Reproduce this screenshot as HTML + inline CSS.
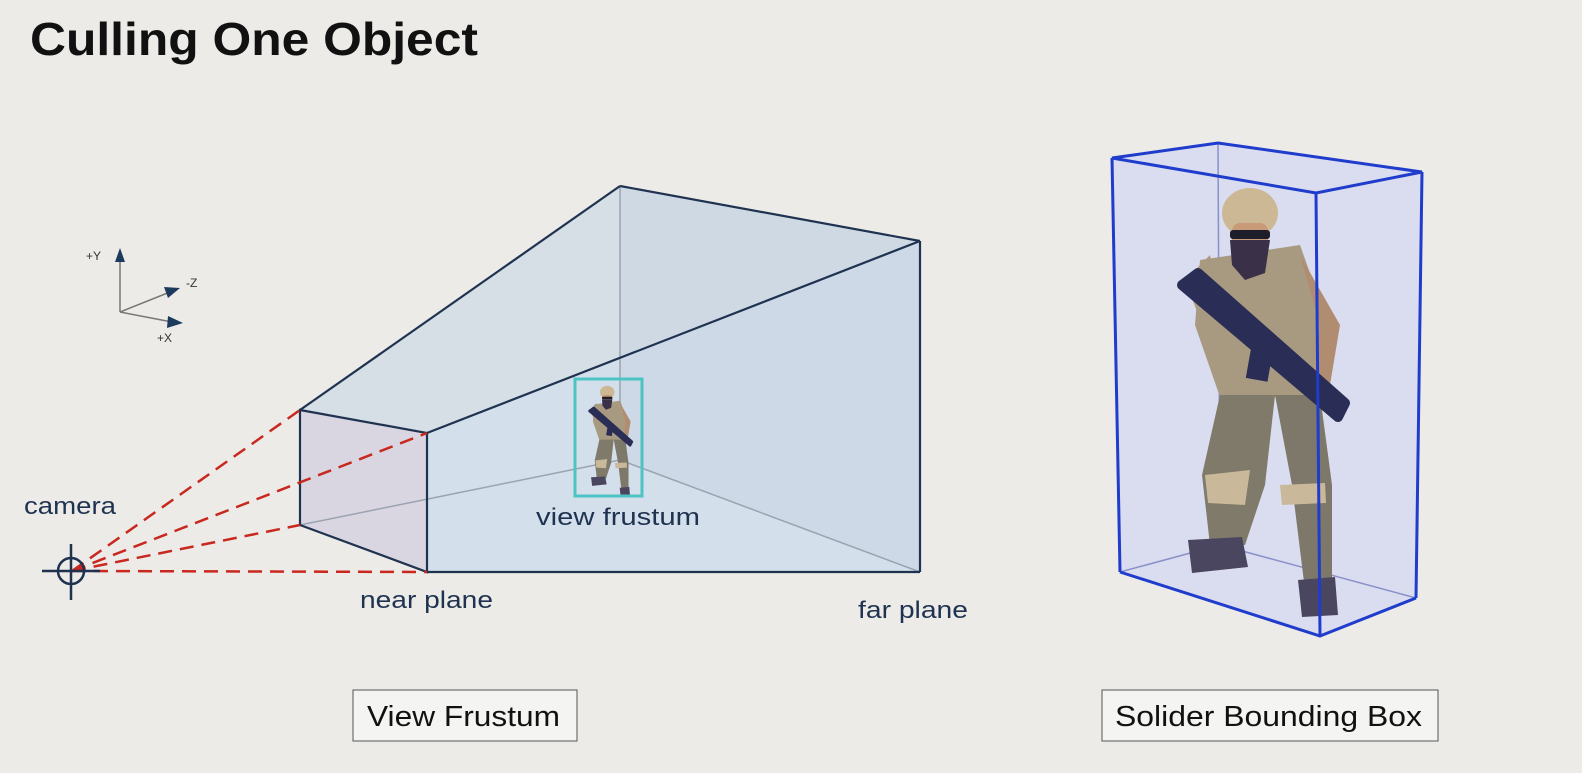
<!DOCTYPE html>
<html><head><meta charset="utf-8"><style>
html,body{margin:0;padding:0;background:#ecebe8;}
svg{display:block;font-family:"Liberation Sans",sans-serif;}
</style></head><body>
<svg width="1582" height="773" viewBox="0 0 1582 773">
<defs>
<g id="soldier">
  <path d="M5,95 L30,70 L60,190 L45,200 Z" fill="#b99a7c"/>
  <path d="M20,75 L120,60 L152,150 L140,212 L40,212 L15,140 Z" fill="#a89a80"/>
  <path d="M120,70 L160,140 L150,200 L135,190 L140,140 Z" fill="#b08c70"/>
  <path d="M40,210 L95,210 L85,300 L65,360 L30,360 L22,290 Z" fill="#7f7a6a"/>
  <path d="M95,210 L140,210 L152,300 L152,400 L125,405 L112,300 Z" fill="#7d786a"/>
  <path d="M25,290 L70,285 L65,320 L28,318 Z" fill="#c9b89a"/>
  <path d="M100,300 L145,298 L146,318 L102,320 Z" fill="#c9b89a"/>
  <path d="M8,355 L62,352 L68,382 L12,388 Z" fill="#4a4660"/>
  <path d="M118,395 L155,392 L158,430 L122,432 Z" fill="#4a4660"/>
  <ellipse cx="70" cy="28" rx="28" ry="25" fill="#cdb896"/>
  <rect x="52" y="38" width="36" height="32" rx="8" fill="#c89a78"/>
  <path d="M50,55 L90,55 L85,88 L65,95 L52,80 Z" fill="#3a3048"/>
  <rect x="50" y="45" width="40" height="9" rx="3" fill="#1e1e2a"/>
  <path d="M2,100 L18,88 L165,218 L158,232 Z" fill="#2a2d55" stroke="#2a2d55" stroke-width="10" stroke-linejoin="round"/>
  <rect x="70" y="150" width="22" height="45" fill="#2a2d55" transform="rotate(10 80 170)"/>
</g>
</defs>

<text x="30" y="55" font-size="46" font-weight="bold" fill="#111" textLength="448" lengthAdjust="spacingAndGlyphs">Culling One Object</text>

<g stroke="#777" stroke-width="1.5" fill="#1c3a5c">
  <line x1="120" y1="312" x2="120" y2="255"/>
  <line x1="120" y1="312" x2="170" y2="292"/>
  <line x1="120" y1="312" x2="172" y2="322"/>
  <path d="M120,248 L115,262 L125,262 Z" stroke="none"/>
  <path d="M180,288 L164,287 L168,298 Z" stroke="none"/>
  <path d="M183,323 L168,316 L167,328 Z" stroke="none"/>
</g>
<text x="86" y="260" font-size="12" fill="#333">+Y</text>
<text x="186" y="287" font-size="12" fill="#333">-Z</text>
<text x="157" y="342" font-size="12" fill="#333">+X</text>

<g>
  <path d="M300,410 L620,186 L920,241 L427,433 Z" fill="#d6dee6" stroke="none"/>
  <path d="M427,433 L920,241 L920,572 L427,572 Z" fill="#d3dfea"/>
  <path d="M620,186 L920,241 L920,572 L620,460 Z" fill="#c9d5e2" opacity="0.6"/>
  <path d="M300,410 L427,433 L427,572 L300,525 Z" fill="#d9d6e2"/>
  <g stroke="#9aa4b0" stroke-width="1.5" fill="none">
    <line x1="620" y1="186" x2="620" y2="460"/>
    <line x1="300" y1="525" x2="620" y2="460"/>
    <line x1="620" y1="460" x2="920" y2="572"/>
  </g>
  <g stroke="#1f3350" stroke-width="2.2" fill="none">
    <path d="M300,410 L427,433 L427,572 L300,525 Z"/>
    <line x1="300" y1="410" x2="620" y2="186"/>
    <line x1="427" y1="433" x2="920" y2="241"/>
    <line x1="620" y1="186" x2="920" y2="241"/>
    <line x1="920" y1="241" x2="920" y2="572"/>
    <line x1="427" y1="572" x2="920" y2="572"/>
  </g>
</g>

<g stroke="#c8281e" stroke-width="2.5" stroke-dasharray="14,8">
  <line x1="72" y1="571" x2="300" y2="410"/>
  <line x1="72" y1="571" x2="427" y2="433"/>
  <line x1="72" y1="571" x2="300" y2="525"/>
  <line x1="72" y1="571" x2="427" y2="572"/>
</g>
<g stroke="#1f3350" stroke-width="2.5" fill="none">
  <circle cx="71" cy="571" r="13"/>
  <line x1="42" y1="571" x2="100" y2="571"/>
  <line x1="71" y1="544" x2="71" y2="600"/>
</g>
<text x="24" y="514" font-size="24" fill="#1f3350" textLength="92" lengthAdjust="spacingAndGlyphs">camera</text>
<text x="360" y="608" font-size="24" fill="#1f3350" textLength="133" lengthAdjust="spacingAndGlyphs">near plane</text>
<text x="858" y="618" font-size="24" fill="#1f3350" textLength="110" lengthAdjust="spacingAndGlyphs">far plane</text>
<text x="536" y="525" font-size="24" fill="#1f3350" textLength="164" lengthAdjust="spacingAndGlyphs">view frustum</text>

<g transform="translate(589,385) scale(0.26)"><use href="#soldier"/></g>
<rect x="575" y="379" width="67" height="117" fill="none" stroke="#4cc4c4" stroke-width="3"/>

<g>
  <path d="M1112,158 L1218,143 L1422,172 L1416,598 L1320,636 L1120,572 Z" fill="#d4daf0" opacity="0.8"/>
  <g stroke="#8a90c8" stroke-width="1.5">
    <line x1="1218" y1="143" x2="1220" y2="545"/>
    <line x1="1220" y1="545" x2="1120" y2="572"/>
    <line x1="1220" y1="545" x2="1416" y2="598"/>
  </g>
  <g transform="translate(1180,185)"><use href="#soldier"/></g>
  <g stroke="#1f3ccc" stroke-width="3" fill="none">
    <path d="M1112,158 L1218,143 L1422,172 L1316,193 Z"/>
    <line x1="1422" y1="172" x2="1416" y2="598"/>
    <line x1="1316" y1="193" x2="1320" y2="636"/>
    <line x1="1112" y1="158" x2="1120" y2="572"/>
    <path d="M1120,572 L1320,636 L1416,598"/>
  </g>
</g>

<rect x="353" y="690" width="224" height="51" fill="#f4f4f2" stroke="#555" stroke-width="1"/>
<text x="367" y="726" font-size="29" fill="#111" textLength="193" lengthAdjust="spacingAndGlyphs">View Frustum</text>
<rect x="1102" y="690" width="336" height="51" fill="#f4f4f2" stroke="#555" stroke-width="1"/>
<text x="1115" y="726" font-size="29" fill="#111" textLength="307" lengthAdjust="spacingAndGlyphs">Solider Bounding Box</text>
</svg>
</body></html>
